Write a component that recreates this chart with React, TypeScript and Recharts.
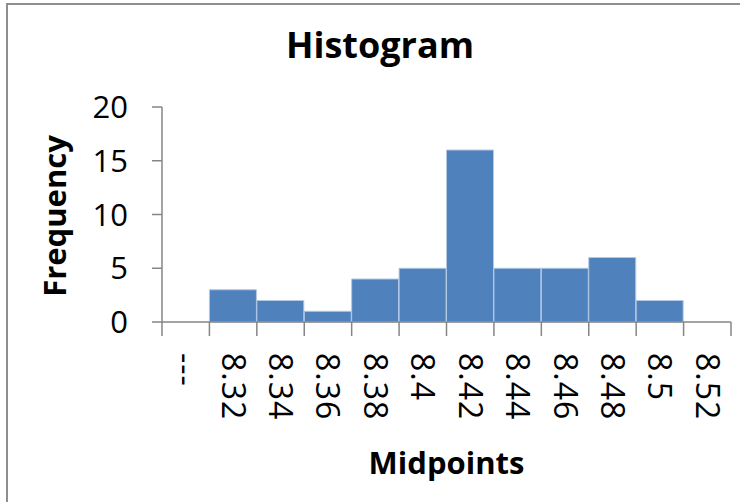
import { Bar, BarChart, XAxis, YAxis } from "recharts";

const midpoints = ["---", "8.32", "8.34", "8.36", "8.38", "8.4", "8.42", "8.44", "8.46", "8.48", "8.5", "8.52"];
const frequency = [0, 3, 2, 1, 4, 5, 16, 5, 5, 6, 2, 0];
const yTicks = [0, 5, 10, 15, 20];

const data = midpoints.map((m, i) => ({ name: m, value: frequency[i] }));

const W = 740;
const H = 502;
const LEFT = 162;
const RIGHT = 9;
const TOP = 107;
const BOTTOM = 180;
const BAND = (W - LEFT - RIGHT) / midpoints.length;
const FONT = "'Open Sans', 'Noto Sans', sans-serif";
const AXIS = "#868686";

// eslint-disable-next-line @typescript-eslint/no-explicit-any
const XTick = (props: any) => {
  const { x, y, index, payload } = props;
  const left = x - BAND / 2;
  return (
    <g>
      <line x1={left} y1={y - 8} x2={left} y2={y + 6} stroke={AXIS} strokeWidth={1.5} />
      {index === midpoints.length - 1 && (
        <line x1={x + BAND / 2} y1={y - 8} x2={x + BAND / 2} y2={y + 6} stroke={AXIS} strokeWidth={1.5} />
      )}
      <g transform={`translate(${x},${y + 23}) rotate(90)`}>
        <text
          x={0}
          y={0}
          dy="0.36em"
          textAnchor="start"
          fontSize={32}
          letterSpacing={1}
          fontFamily={FONT}
          fill="#000"
        >
          {payload.value}
        </text>
      </g>
    </g>
  );
};

// eslint-disable-next-line @typescript-eslint/no-explicit-any
const YTick = (props: any) => {
  const { x, y, payload } = props;
  return (
    <text x={x} y={y} dy="0.36em" textAnchor="end" fontSize={31} fontFamily={FONT} fill="#000">
      {payload.value}
    </text>
  );
};

const App = () => {
  return (
    <div style={{ position: "absolute", left: 0, top: 0, width: W, height: H, overflow: "hidden", background: "#fff" }}>
      <div
        style={{
          position: "absolute",
          left: 6,
          top: 3,
          width: W + 20,
          height: H + 20,
          border: "2px solid #8e8e8e",
        }}
      />
      <div style={{ position: "absolute", left: 0, top: 0 }}>
        <BarChart
          width={W}
          height={H}
          data={data}
          barCategoryGap={0}
          margin={{ top: TOP, right: RIGHT, left: 0, bottom: 0 }}
        >
          <XAxis
            dataKey="name"
            height={BOTTOM}
            stroke={AXIS}
            strokeWidth={1.5}
            tickLine={false}
            interval={0}
            tick={<XTick />}
            label={{
              value: "Midpoints",
              position: "insideBottom",
              offset: 28,
              fontSize: 31,
              fontWeight: "bold",
              fontFamily: FONT,
              fill: "#000",
            }}
          />
          <YAxis
            width={LEFT}
            domain={[0, 20]}
            ticks={yTicks}
            interval={0}
            stroke={AXIS}
            strokeWidth={1.5}
            tickSize={10}
            tickMargin={24}
            tick={<YTick />}
          />
          <Bar dataKey="value" fill="#4F81BD" stroke="#b3c8e3" strokeWidth={1} isAnimationActive={false} />
        </BarChart>
      </div>
      <svg style={{ position: "absolute", left: 0, top: 0 }} width={W} height={H} pointerEvents="none">
        <text x={380} y={58} textAnchor="middle" fontSize={36} fontWeight="bold" fontFamily={FONT} fill="#000">
          Histogram
        </text>
        <g transform="translate(55,216) rotate(-90)">
          <text x={0} y={0} dy="0.36em" textAnchor="middle" fontSize={31} fontWeight="bold" fontFamily={FONT} fill="#000">
            Frequency
          </text>
        </g>
      </svg>
    </div>
  );
};

export default App;
